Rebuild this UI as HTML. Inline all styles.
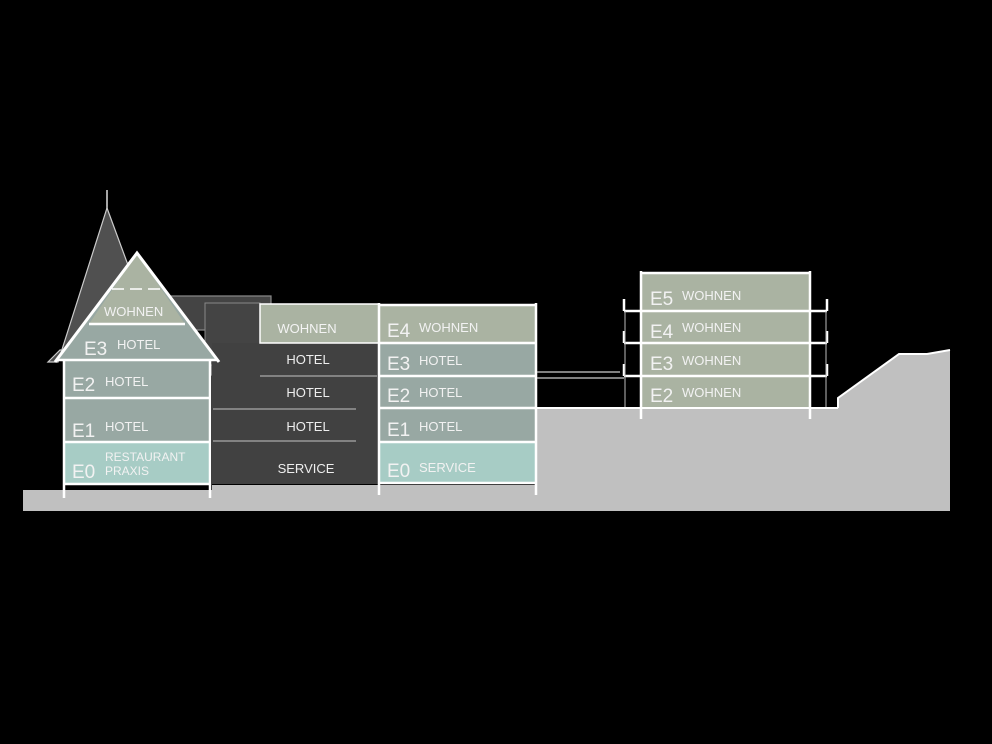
<!DOCTYPE html>
<html><head><style>html,body{margin:0;padding:0;background:#000;}svg{display:block;}</style></head>
<body>
<svg width="992" height="744" viewBox="0 0 992 744" xmlns="http://www.w3.org/2000/svg" font-family="'Liberation Sans', sans-serif">
<rect width="992" height="744" fill="#000"/>
<!-- ground -->
<polygon points="23,490 212,490 212,485 379,485 379,485 537,485 537,408 838,408 838,398 899,354 927,354 950,350 950,511 23,511" fill="#c0c0c0"/>
<polyline points="838,408 838,398 899,354 927,354 950,350" fill="none" stroke="#fff" stroke-width="2"/>
<line x1="537" y1="408" x2="838" y2="408" stroke="#fff" stroke-width="2"/>
<!-- spire -->
<line x1="107" y1="190" x2="107" y2="210" stroke="#ddd" stroke-width="1.5"/>
<polygon points="107,208 128,265 70,350 60,350 48,362 58,362" fill="#505050" stroke="#ccc" stroke-width="1.2"/>
<!-- dark back roof -->
<polygon points="170,296 271,296 271,305 260,305 260,375 212,375 212,330 170,330" fill="#444" stroke="#888" stroke-width="1.2"/>
<rect x="205" y="303" width="55" height="62" fill="#444" stroke="#888" stroke-width="1"/>
<!-- dark middle building -->
<rect x="212" y="343" width="167" height="141" fill="#414141"/>
<rect x="212" y="365" width="48" height="12" fill="#414141"/>
<rect x="260" y="304" width="119" height="39" fill="#aab3a2" stroke="#fff" stroke-width="1.5"/>
<line x1="260" y1="376" x2="377" y2="376" stroke="#aaa" stroke-width="1.2"/>
<line x1="213" y1="409" x2="356" y2="409" stroke="#aaa" stroke-width="1.2"/>
<line x1="213" y1="441" x2="356" y2="441" stroke="#aaa" stroke-width="1.2"/>
<g fill="#eee" font-size="13" text-anchor="middle">
<text x="307" y="333" fill="#f4f4f4">WOHNEN</text>
<text x="308" y="364">HOTEL</text>
<text x="308" y="397">HOTEL</text>
<text x="308" y="431">HOTEL</text>
<text x="306" y="473">SERVICE</text>
</g>
<!-- old house -->
<polygon points="137,253 217,360 57,360" fill="#98a8a3"/>
<polygon points="137,253 185,324 89,324" fill="#aab3a2"/>
<line x1="112" y1="289" x2="162" y2="289" stroke="#fff" stroke-width="1.5" stroke-dasharray="12,6"/>
<line x1="89" y1="324" x2="185" y2="324" stroke="#fff" stroke-width="2.5"/>
<polyline points="55,362 137,253 219,362" fill="none" stroke="#fff" stroke-width="3"/>
<rect x="64" y="360" width="146" height="38" fill="#98a8a3"/>
<rect x="64" y="398" width="146" height="44" fill="#98a8a3"/>
<rect x="64" y="442" width="146" height="41" fill="#a7ccc5"/>
<g stroke="#fff" stroke-width="2.5" fill="none">
<line x1="57" y1="360" x2="217" y2="360"/>
<line x1="64" y1="398" x2="210" y2="398"/>
<line x1="64" y1="442" x2="210" y2="442"/>
<line x1="64" y1="484" x2="210" y2="484"/>
<line x1="64" y1="360" x2="64" y2="498"/>
<line x1="210" y1="360" x2="210" y2="498"/>
</g>
<g fill="#f2f2f2">
<text x="104" y="316" font-size="13">WOHNEN</text>
<text x="84" y="355" font-size="19">E3</text><text x="117" y="349" font-size="13">HOTEL</text>
<text x="72" y="391" font-size="19">E2</text><text x="105" y="386" font-size="13">HOTEL</text>
<text x="72" y="437" font-size="19">E1</text><text x="105" y="431" font-size="13">HOTEL</text>
<text x="72" y="478" font-size="19">E0</text><text x="105" y="461" font-size="12">RESTAURANT</text><text x="105" y="475" font-size="12">PRAXIS</text>
</g>
<!-- middle-right building -->
<rect x="379" y="305" width="157" height="37" fill="#aab3a2"/>
<rect x="379" y="342" width="157" height="66" fill="#98a8a3"/>
<rect x="379" y="408" width="157" height="34" fill="#98a8a3"/>
<rect x="379" y="442" width="157" height="41" fill="#a7ccc5"/>
<g stroke="#fff" stroke-width="2.5">
<line x1="379" y1="305" x2="536" y2="305"/>
<line x1="379" y1="343" x2="536" y2="343"/>
<line x1="379" y1="376" x2="536" y2="376"/>
<line x1="379" y1="408" x2="536" y2="408"/>
<line x1="379" y1="442" x2="536" y2="442"/>
<line x1="379" y1="483" x2="536" y2="483"/>
<line x1="379" y1="303" x2="379" y2="495"/>
<line x1="536" y1="303" x2="536" y2="495"/>
</g>
<g stroke="#ccc" stroke-width="1.2">
<line x1="537" y1="372" x2="620" y2="372"/>
<line x1="537" y1="378" x2="624" y2="378"/>
</g>
<g fill="#f2f2f2">
<text x="387" y="337" font-size="19">E4</text><text x="419" y="332" font-size="13">WOHNEN</text>
<text x="387" y="370" font-size="19">E3</text><text x="419" y="365" font-size="13">HOTEL</text>
<text x="387" y="402" font-size="19">E2</text><text x="419" y="397" font-size="13">HOTEL</text>
<text x="387" y="436" font-size="19">E1</text><text x="419" y="431" font-size="13">HOTEL</text>
<text x="387" y="477" font-size="19">E0</text><text x="419" y="472" font-size="13">SERVICE</text>
</g>
<!-- right building -->
<rect x="641" y="273" width="169" height="134" fill="#aab3a2"/>
<g stroke="#fff" stroke-width="2.5">
<line x1="641" y1="273" x2="810" y2="273"/>
<line x1="624" y1="311" x2="827" y2="311"/>
<line x1="624" y1="343" x2="827" y2="343"/>
<line x1="624" y1="376" x2="827" y2="376"/>
<line x1="641" y1="271" x2="641" y2="419"/>
<line x1="810" y1="271" x2="810" y2="419"/>
<line x1="624" y1="299" x2="624" y2="311"/>
<line x1="827" y1="299" x2="827" y2="311"/>
<line x1="624" y1="331" x2="624" y2="343"/>
<line x1="827" y1="331" x2="827" y2="343"/>
<line x1="624" y1="364" x2="624" y2="376"/>
<line x1="827" y1="364" x2="827" y2="376"/>
</g>
<g stroke="#bbb" stroke-width="1">
<line x1="625" y1="311" x2="625" y2="407"/>
<line x1="826" y1="311" x2="826" y2="407"/>
</g>
<g fill="#f2f2f2">
<text x="650" y="305" font-size="19">E5</text><text x="682" y="300" font-size="13">WOHNEN</text>
<text x="650" y="338" font-size="19">E4</text><text x="682" y="332" font-size="13">WOHNEN</text>
<text x="650" y="370" font-size="19">E3</text><text x="682" y="365" font-size="13">WOHNEN</text>
<text x="650" y="402" font-size="19">E2</text><text x="682" y="397" font-size="13">WOHNEN</text>
</g>
</svg>
</body></html>
